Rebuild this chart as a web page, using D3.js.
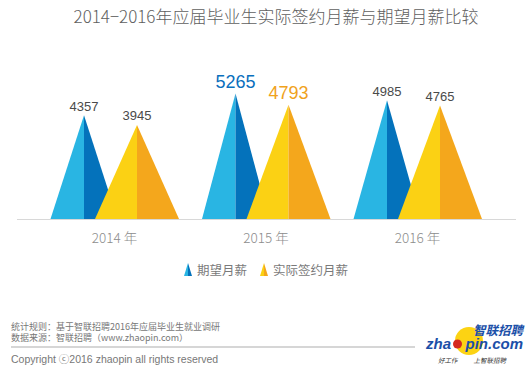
<!DOCTYPE html>
<html>
<head>
<meta charset="utf-8">
<script src="https://cdn.jsdelivr.net/npm/d3@7"></script>
<style>
  body { margin: 0; background: #fff; }
  svg { display: block; font-family: "Liberation Sans", Arial, "Noto Sans CJK SC", sans-serif; }
  .cjk { font-family: "Noto Sans CJK SC", "Liberation Sans", sans-serif; }
</style>
</head>
<body>
<div id="chart"></div>
<script>
const years = ['2014', '2015', '2016'];
const expected = [4357, 5265, 4985];   // 期望月薪
const actual = [3945, 4793, 4765];     // 实际签约月薪
const highlightYear = '2015';
const seriesNames = ['期望月薪', '实际签约月薪'];

const width = 528, height = 374;
const baseY = 219;

const svg = d3.select('#chart')
  .append('svg')
  .attr('width', width)
  .attr('height', height);

const x = d3.scalePoint().domain(years).range([110.5, 413.5]);
const y = d3.scaleLinear().domain([0, 6000]).range([baseY, baseY - 143]);

const series = [
  { name: seriesNames[0], values: expected, dx: -26.5, half: 33.5, light: '#29b5e3', dark: '#0472bb', big: '#0a6fbd' },
  { name: seriesNames[1], values: actual, dx: 26.5, half: 42, light: '#fbd114', dark: '#f4a71c', big: '#f0a21c' },
];

// title
svg.append('text')
  .attr('class', 'cjk')
  .attr('x', 276)
  .attr('y', 23)
  .attr('text-anchor', 'middle')
  .attr('fill', '#606060')
  .style('font-size', '17px')
  .style('font-weight', 300)
  .text('2014−2016年应届毕业生实际签约月薪与期望月薪比较');

// baseline
svg.append('line')
  .attr('x1', 17).attr('x2', 516)
  .attr('y1', baseY + 0.5).attr('y2', baseY + 0.5)
  .attr('stroke', '#d8d8d8');

// split triangle: left half light, right half dark
function halfTri(g, cx, top, half, bottom, light, dark) {
  g.append('path')
    .attr('d', `M${cx},${top} L${cx - half},${bottom} L${cx},${bottom} Z`)
    .attr('fill', light);
  g.append('path')
    .attr('d', `M${cx},${top} L${cx + half},${bottom} L${cx},${bottom} Z`)
    .attr('fill', dark);
}

series.forEach((s) => {
  const g = svg.append('g').attr('class', 'series');
  years.forEach((yr, i) => {
    const cx = x(yr) + s.dx;
    const top = y(s.values[i]);
    halfTri(g, cx, top, s.half, baseY, s.light, s.dark);
    const isBig = yr === highlightYear;
    g.append('text')
      .attr('x', cx)
      .attr('y', top - (isBig ? 6 : 4.5))
      .attr('text-anchor', 'middle')
      .attr('fill', isBig ? s.big : '#4a4a4a')
      .style('font-size', isBig ? '18px' : '13px')
      .text(s.values[i]);
  });
});

// year labels
svg.selectAll('.year')
  .data(years)
  .enter()
  .append('text')
  .attr('class', 'year cjk')
  .attr('x', (d) => x(d) + 4)
  .attr('y', 243)
  .attr('text-anchor', 'middle')
  .attr('fill', '#8c8c8c')
  .style('font-size', '13.5px')
  .style('font-weight', 300)
  .text((d) => d + ' 年');

// legend
const legendX = [184, 260];
series.forEach((s, i) => {
  const g = svg.append('g').attr('transform', `translate(${legendX[i]},0)`);
  halfTri(g, 4, 263, 4, 276, s.light, s.dark);
  g.append('text')
    .attr('class', 'cjk')
    .attr('x', 13)
    .attr('y', 275)
    .attr('fill', '#7a7a7a')
    .style('font-size', '12.5px')
    .text(s.name);
});

// footer notes (one text block, two lines)
const notes = ['统计规则：基于智联招聘2016年应届毕业生就业调研', '数据来源：智联招聘（www.zhaopin.com）'];
svg.append('text')
  .attr('class', 'note cjk')
  .attr('fill', '#777')
  .style('font-size', '9px')
  .selectAll('tspan')
  .data(notes)
  .enter()
  .append('tspan')
  .attr('x', 11)
  .attr('y', (d, i) => 330 + i * 11)
  .text((d) => d);

svg.append('line')
  .attr('x1', 11).attr('x2', 415)
  .attr('y1', 347).attr('y2', 347)
  .attr('stroke', '#c8c8c8')
  .attr('stroke-width', 1.5);

svg.append('text')
  .attr('x', 11)
  .attr('y', 363)
  .attr('fill', '#777')
  .style('font-size', '10.5px')
  .text('Copyright ⓒ2016 zhaopin all rights reserved');

// logo
const logo = svg.append('g');
logo.append('circle').attr('cx', 469).attr('cy', 341).attr('r', 14).attr('fill', '#fcd313');
const mark = logo.append('text')
  .attr('fill', '#1b4fa8')
  .style('font-weight', 'bold')
  .style('font-style', 'italic');
mark.append('tspan')
  .attr('class', 'cjk')
  .attr('x', 523).attr('y', 334.5)
  .attr('text-anchor', 'end')
  .style('font-size', '12.5px')
  .text('智联招聘');
mark.append('tspan')
  .attr('x', 426).attr('y', 349)
  .style('font-size', '15px')
  .text('zha');
mark.append('tspan')
  .attr('x', 523).attr('y', 349)
  .attr('text-anchor', 'end')
  .style('font-size', '15px')
  .text('pin.com');
logo.append('circle').attr('cx', 457.5).attr('cy', 344).attr('r', 4.5).attr('fill', '#d42a1f');
logo.append('text')
  .attr('class', 'cjk')
  .attr('x', 438).attr('y', 363)
  .attr('fill', '#333')
  .style('font-size', '6.5px')
  .style('font-style', 'italic')
  .text('好工作');
logo.append('text')
  .attr('class', 'cjk')
  .attr('x', 506).attr('y', 363)
  .attr('text-anchor', 'end')
  .attr('fill', '#333')
  .style('font-size', '6.5px')
  .style('font-style', 'italic')
  .text('上智联招聘');
</script>
</body>
</html>
